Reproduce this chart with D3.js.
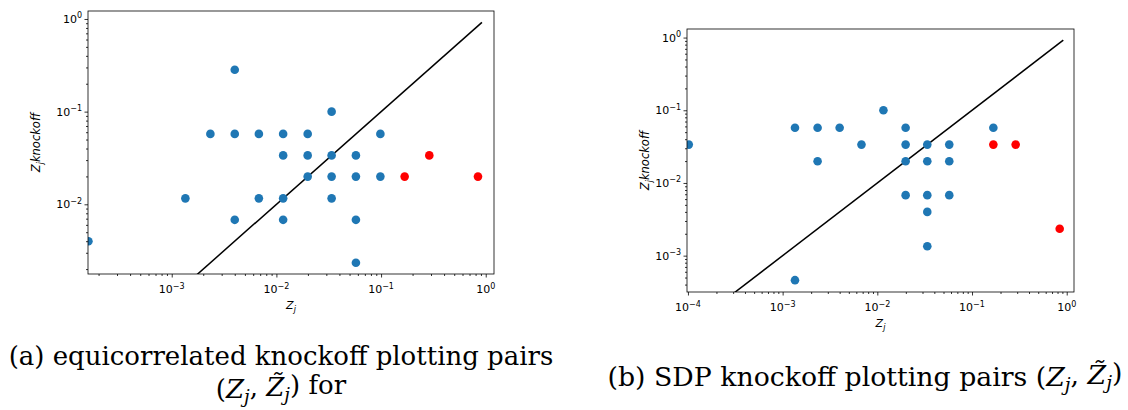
<!DOCTYPE html>
<html>
<head>
<meta charset="utf-8">
<script src="https://cdn.jsdelivr.net/npm/d3@7"></script>
<style>
  html, body { margin: 0; padding: 0; background: #fff; }
  svg { display: block; }
</style>
</head>
<body>
<svg id="fig" width="1128" height="410"></svg>
<script>
// ---- Equicorrelated knockoffs: (Z_j, Z~_j) pairs ----
const eqNullZ  = [0.00016, 0.00135, 0.00234, 0.004, 0.004, 0.004, 0.0068, 0.0068, 0.0116, 0.0116, 0.0116, 0.0116,
                  0.0199, 0.0199, 0.0199, 0.0337, 0.0337, 0.0337, 0.0337, 0.0575, 0.0575, 0.0575, 0.0575, 0.0985, 0.0985];
const eqNullZk = [0.004, 0.0116, 0.0575, 0.283, 0.0575, 0.0068, 0.0575, 0.0116, 0.0575, 0.0337, 0.0116, 0.0068,
                  0.0575, 0.0337, 0.0199, 0.1, 0.0337, 0.0199, 0.0116, 0.0337, 0.0199, 0.0068, 0.00234, 0.0575, 0.0199];
const eqSigZ   = [0.168, 0.289, 0.843];
const eqSigZk  = [0.0199, 0.0337, 0.0199];

// ---- SDP knockoffs: (Z_j, Z~_j) pairs ----
const sdpNullZ  = [0.000102, 0.00135, 0.00135, 0.00234, 0.00234, 0.004, 0.0068, 0.0116, 0.0199, 0.0199, 0.0199, 0.0199,
                   0.0337, 0.0337, 0.0337, 0.0337, 0.0337, 0.0575, 0.0575, 0.0575, 0.168];
const sdpNullZk = [0.0337, 0.0575, 0.00046, 0.0575, 0.0199, 0.0575, 0.0337, 0.1, 0.0575, 0.0337, 0.0199, 0.0068,
                   0.0337, 0.0199, 0.0068, 0.004, 0.00135, 0.0337, 0.0199, 0.0068, 0.0575];
const sdpSigZ   = [0.168, 0.289, 0.843];
const sdpSigZk  = [0.0337, 0.0337, 0.00234];

// reference line y = x
const diagLine = [0.0001, 0.92];

// decade tick exponents per panel
const eqXTicks  = [-3, -2, -1, 0];
const eqYTicks  = [-2, -1, 0];
const sdpXTicks = [-4, -3, -2, -1, 0];
const sdpYTicks = [-3, -2, -1, 0];

const BLUE = "#1f77b4", RED = "#ff0000";
const svg = d3.select("#fig");
const tickFont = "DejaVu Sans, sans-serif";

function superLabel(sel, exp) {
  sel.append("tspan").text("10");
  sel.append("tspan").attr("dy", -4.5).attr("font-size", 8).text(exp === 0 ? "0" : "\u2212" + Math.abs(exp));
}

function drawPanel(o) {
  const g = svg.append("g");
  const x = d3.scaleLog().domain(o.xDom).range([o.left, o.right]);
  const y = d3.scaleLog().domain(o.yDom).range([o.bottom, o.top]);
  const clipId = "clip-" + o.id;
  svg.append("clipPath").attr("id", clipId).append("rect")
    .attr("x", o.left).attr("y", o.top).attr("width", o.right - o.left).attr("height", o.bottom - o.top);

  const plot = g.append("g").attr("clip-path", `url(#${clipId})`);
  plot.append("path")
    .datum(diagLine)
    .attr("d", d3.line().x(d => x(d)).y(d => y(d)))
    .attr("stroke", "#000").attr("stroke-width", 1.5).attr("fill", "none");

  const nullPts = o.nullZ.map((z, i) => [z, o.nullZk[i]]);
  const sigPts = o.sigZ.map((z, i) => [z, o.sigZk[i]]);
  plot.selectAll("circle.null").data(nullPts).join("circle").attr("class", "null")
    .attr("cx", d => x(d[0])).attr("cy", d => y(d[1])).attr("r", 4.3).attr("fill", BLUE);
  plot.selectAll("circle.sig").data(sigPts).join("circle").attr("class", "sig")
    .attr("cx", d => x(d[0])).attr("cy", d => y(d[1])).attr("r", 4.3).attr("fill", RED);

  // axes with major (decade) and minor ticks
  const minor = (dom) => {
    const out = [];
    const lo = Math.floor(Math.log10(dom[0])), hi = Math.ceil(Math.log10(dom[1]));
    for (let e = lo; e <= hi; e++) for (let m = 2; m <= 9; m++) {
      const v = m * Math.pow(10, e);
      if (v >= dom[0] && v <= dom[1]) out.push(v);
    }
    return out;
  };
  g.append("g").attr("transform", `translate(0,${o.bottom})`)
    .call(d3.axisBottom(x).tickValues(o.xTicks.map(e => Math.pow(10, e))).tickSize(3.5).tickFormat(""));
  g.append("g").attr("transform", `translate(0,${o.bottom})`)
    .call(d3.axisBottom(x).tickValues(minor(o.xDom)).tickSize(2).tickFormat(""));
  g.append("g").attr("transform", `translate(${o.left},0)`)
    .call(d3.axisLeft(y).tickValues(o.yTicks.map(e => Math.pow(10, e))).tickSize(3.5).tickFormat(""));
  g.append("g").attr("transform", `translate(${o.left},0)`)
    .call(d3.axisLeft(y).tickValues(minor(o.yDom)).tickSize(2).tickFormat(""));
  g.selectAll(".domain").remove();
  g.selectAll(".tick line").attr("stroke", "#000").attr("stroke-width", 0.8);

  // tick labels as 10^e
  o.xTicks.forEach(e => {
    const t = g.append("text").attr("x", x(Math.pow(10, e))).attr("y", o.bottom + 19)
      .attr("text-anchor", "middle").attr("font-family", tickFont).attr("font-size", 11).attr("fill", "#000");
    superLabel(t, e);
  });
  o.yTicks.forEach(e => {
    const t = g.append("text").attr("x", o.left - 6).attr("y", y(Math.pow(10, e)) + 4)
      .attr("text-anchor", "end").attr("font-family", tickFont).attr("font-size", 11).attr("fill", "#000");
    superLabel(t, e);
  });

  // frame
  g.append("rect").attr("x", o.left).attr("y", o.top)
    .attr("width", o.right - o.left).attr("height", o.bottom - o.top)
    .attr("fill", "none").attr("stroke", "#000").attr("stroke-width", 0.8);

  // axis titles
  const xl = g.append("text").attr("x", (o.left + o.right) / 2).attr("y", o.bottom + 35)
    .attr("text-anchor", "middle").attr("font-family", tickFont).attr("font-style", "italic").attr("font-size", 11);
  xl.append("tspan").text("Z");
  xl.append("tspan").attr("dy", 3).attr("font-size", 8).text("j");

  const cy = (o.top + o.bottom) / 2;
  const yl = g.append("text").attr("transform", `translate(${o.yLabelX},${cy}) rotate(-90)`)
    .attr("text-anchor", "middle").attr("font-family", tickFont).attr("font-style", "italic").attr("font-size", 11.5);
  yl.append("tspan").text("Z");
  yl.append("tspan").attr("dy", 3).attr("font-size", 8).text("j");
  yl.append("tspan").attr("dy", -3).text("knockoff");
}

drawPanel({ id: "eq", left: 88, right: 494, top: 11, bottom: 274,
  xDom: [Math.pow(10, -3.80), Math.pow(10, 0.079)], yDom: [Math.pow(10, -2.752), Math.pow(10, 0.086)],
  xTicks: eqXTicks, yTicks: eqYTicks, yLabelX: 40,
  nullZ: eqNullZ, nullZk: eqNullZk, sigZ: eqSigZ, sigZk: eqSigZk });

drawPanel({ id: "sdp", left: 687, right: 1074, top: 29, bottom: 292,
  xDom: [Math.pow(10, -4.01), Math.pow(10, 0.077)], yDom: [Math.pow(10, -3.50), Math.pow(10, 0.118)],
  xTicks: sdpXTicks, yTicks: sdpYTicks, yLabelX: 649,
  nullZ: sdpNullZ, nullZk: sdpNullZk, sigZ: sdpSigZ, sigZk: sdpSigZk });

// ---- sub-captions ----
const capFont = "DejaVu Serif, serif";
function pairTspans(t) {
  t.append("tspan").text("(");
  t.append("tspan").attr("font-style", "italic").text("Z");
  t.append("tspan").attr("font-style", "italic").attr("font-size", "0.7em").attr("dy", "0.25em").text("j");
  t.append("tspan").attr("dy", "-0.25em").text(", ");
  t.append("tspan").attr("font-style", "italic").text("Z\u0303");
  t.append("tspan").attr("font-style", "italic").attr("font-size", "0.7em").attr("dy", "0.25em").text("j");
  t.append("tspan").attr("dy", "-0.25em").text(")");
}
// choose the font size that makes a caption span the given width
function fitWidth(t, w) {
  t.attr("font-size", 100);
  const nat = t.node().getComputedTextLength();
  t.attr("font-size", 100 * w / nat);
}

const capA1 = svg.append("text").attr("x", 281).attr("y", 365).attr("text-anchor", "middle")
  .attr("font-family", capFont).text("(a) equicorrelated knockoff plotting pairs");
fitWidth(capA1, 545);
const capA2 = svg.append("text").attr("x", 281).attr("y", 398).attr("text-anchor", "middle")
  .attr("font-family", capFont).attr("font-size", capA1.attr("font-size"));
pairTspans(capA2);
capA2.append("tspan").text(" for");

const capB = svg.append("text").attr("x", 865).attr("y", 386).attr("text-anchor", "middle")
  .attr("font-family", capFont);
capB.append("tspan").text("(b) SDP knockoff plotting pairs ");
pairTspans(capB);
fitWidth(capB, 515);
</script>
</body>
</html>
